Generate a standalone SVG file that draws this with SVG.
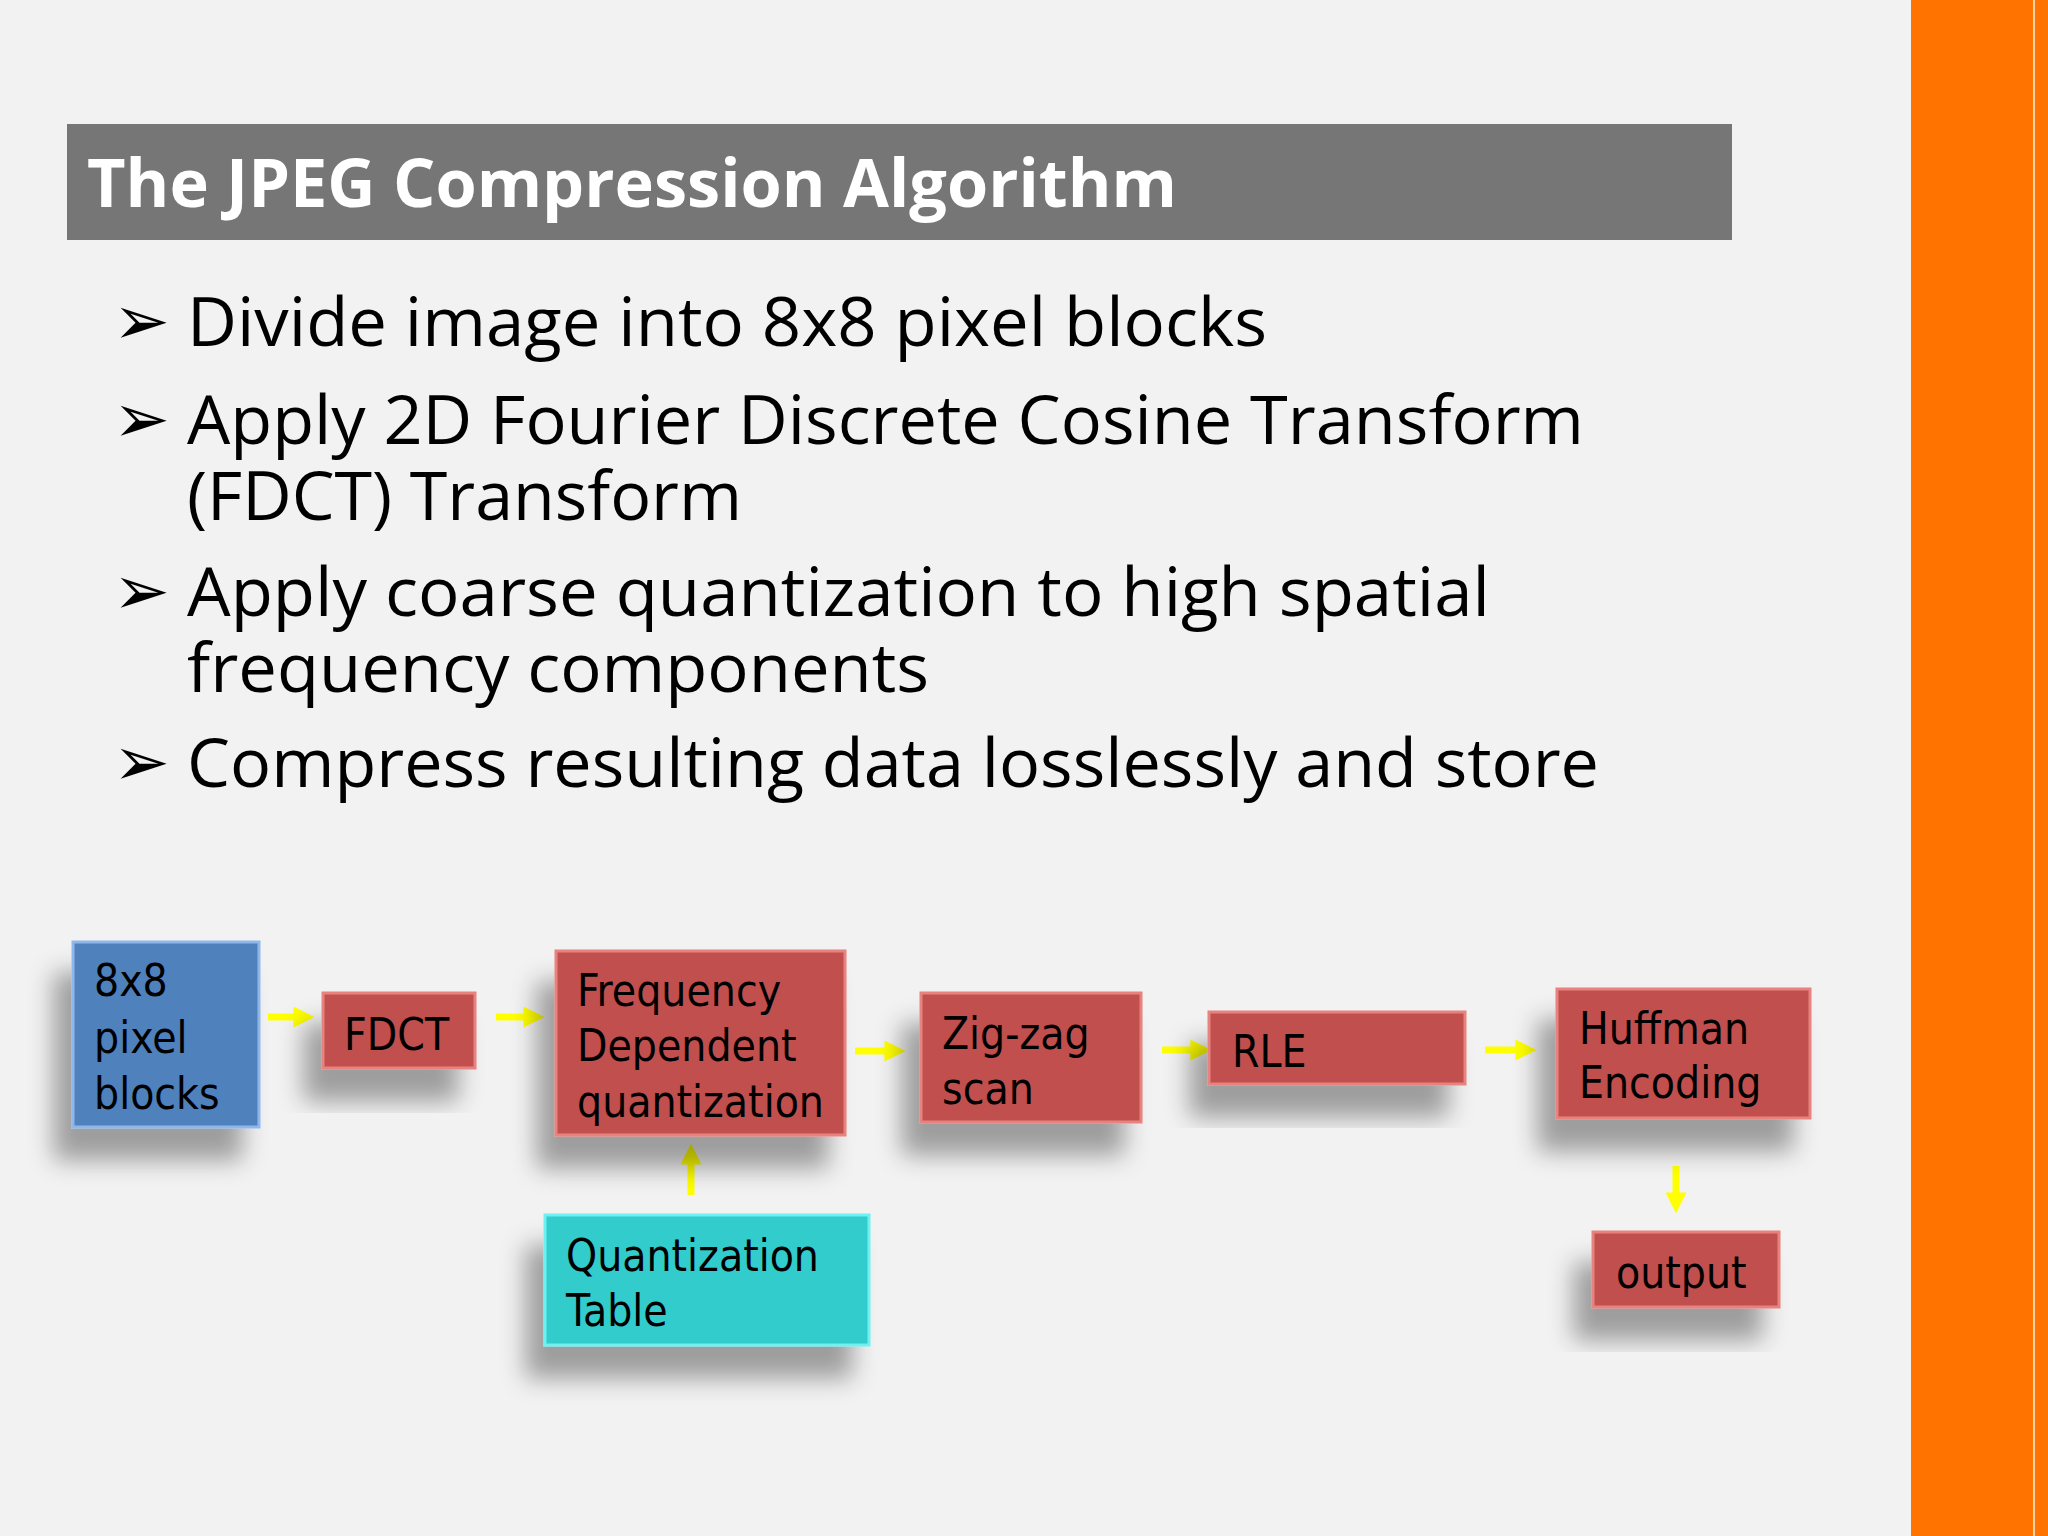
<svg xmlns="http://www.w3.org/2000/svg" width="2048" height="1536" viewBox="0 0 2048 1536">
<defs>
<filter id="sh" x="-30%" y="-30%" width="160%" height="190%">
<feDropShadow dx="-18" dy="32" stdDeviation="12" flood-color="#000" flood-opacity="0.35"/>
</filter>
<marker id="ah" viewBox="0 0 10 10" refX="6" refY="5" markerWidth="3" markerHeight="3" orient="auto"><path d="M0,0 L10,5 L0,10 z" fill="#ffff00"/></marker>
</defs>
<style>
.red{fill:#c0504d;stroke:#e8827f;stroke-width:3}
.blue{fill:#4f81bd;stroke:#8fb7ec;stroke-width:3}
.cyan{fill:#33cccc;stroke:#6ff0f0;stroke-width:3}
.t{font-family:"DejaVu Sans Condensed","Liberation Sans",sans-serif;font-size:44px;fill:#000}
.b{font-family:"Open Sans","Liberation Sans",sans-serif;font-size:68px;fill:#000}
.c{stroke:#ffff00;stroke-width:7;fill:none;marker-end:url(#ah)}
</style>
<rect width="2048" height="1536" fill="#f2f2f2"/>
<rect x="1911" y="0" width="137" height="1536" fill="#ff7300"/>
<rect x="2033" y="0" width="2" height="1536" fill="#ffd0a0"/>
<g id="title">
<rect x="67" y="124" width="1665" height="116" fill="#767676"/>
<text x="87" y="207" font-family="'Open Sans','Liberation Sans',sans-serif" font-weight="bold" font-size="66" fill="#fff" textLength="1090" lengthAdjust="spacingAndGlyphs">The JPEG Compression Algorithm</text>
</g>
<g id="bullets">
<text class="b" x="113" y="344" font-family="DejaVu Sans,sans-serif">➢</text>
<text class="b" x="187" y="346" textLength="1080" lengthAdjust="spacingAndGlyphs">Divide image into 8x8 pixel blocks</text>
<text class="b" x="113" y="442" font-family="DejaVu Sans,sans-serif">➢</text>
<text class="b" x="187" y="444" textLength="1397" lengthAdjust="spacingAndGlyphs">Apply 2D Fourier Discrete Cosine Transform</text>
<text class="b" x="187" y="520" textLength="555" lengthAdjust="spacingAndGlyphs">(FDCT) Transform</text>
<text class="b" x="113" y="614" font-family="DejaVu Sans,sans-serif">➢</text>
<text class="b" x="187" y="616" textLength="1303" lengthAdjust="spacingAndGlyphs">Apply coarse quantization to high spatial</text>
<text class="b" x="187" y="692" textLength="742" lengthAdjust="spacingAndGlyphs">frequency components</text>
<text class="b" x="113" y="785" font-family="DejaVu Sans,sans-serif">➢</text>
<text class="b" x="187" y="787" textLength="1412" lengthAdjust="spacingAndGlyphs">Compress resulting data losslessly and store</text>
</g>
<g id="connectors">
<line class="c" x1="268" y1="1017" x2="306" y2="1017"/>
<line class="c" x1="496" y1="1017" x2="536" y2="1017"/>
<line class="c" x1="855" y1="1051" x2="897" y2="1051"/>
<line class="c" x1="1162" y1="1050" x2="1203" y2="1050"/>
<line class="c" x1="1485" y1="1050" x2="1528" y2="1050"/>
<line class="c" x1="691" y1="1195" x2="691" y2="1152"/>
<line class="c" x1="1676" y1="1166" x2="1676" y2="1205"/>
</g>
<g id="n-blocks"><rect class="blue" x="73" y="942" width="186" height="185" filter="url(#sh)"/>
<text class="t" x="94" y="996">8x8</text><text class="t" x="94" y="1053">pixel</text><text class="t" x="94" y="1109">blocks</text></g>
<g id="n-fdct"><rect class="red" x="323" y="993" width="152" height="75" filter="url(#sh)"/>
<text class="t" x="344" y="1050">FDCT</text></g>
<g id="n-freq"><rect class="red" x="556" y="951" width="289" height="184" filter="url(#sh)"/>
<text class="t" x="577" y="1006">Frequency</text><text class="t" x="577" y="1061">Dependent</text><text class="t" x="577" y="1117">quantization</text></g>
<g id="n-zig"><rect class="red" x="921" y="993" width="220" height="129" filter="url(#sh)"/>
<text class="t" x="942" y="1049">Zig-zag</text><text class="t" x="942" y="1104">scan</text></g>
<g id="n-rle"><rect class="red" x="1209" y="1012" width="256" height="72" filter="url(#sh)"/>
<text class="t" x="1232" y="1067">RLE</text></g>
<g id="n-huff"><rect class="red" x="1557" y="989" width="253" height="129" filter="url(#sh)"/>
<text class="t" x="1579" y="1044">Huffman</text><text class="t" x="1579" y="1098">Encoding</text></g>
<g id="n-output"><rect class="red" x="1593" y="1232" width="186" height="75" filter="url(#sh)"/>
<text class="t" x="1616" y="1288">output</text></g>
<g id="n-qtable"><rect class="cyan" x="545" y="1215" width="324" height="130" filter="url(#sh)"/>
<text class="t" x="566" y="1271">Quantization</text><text class="t" x="566" y="1326">Table</text></g>
</svg>
